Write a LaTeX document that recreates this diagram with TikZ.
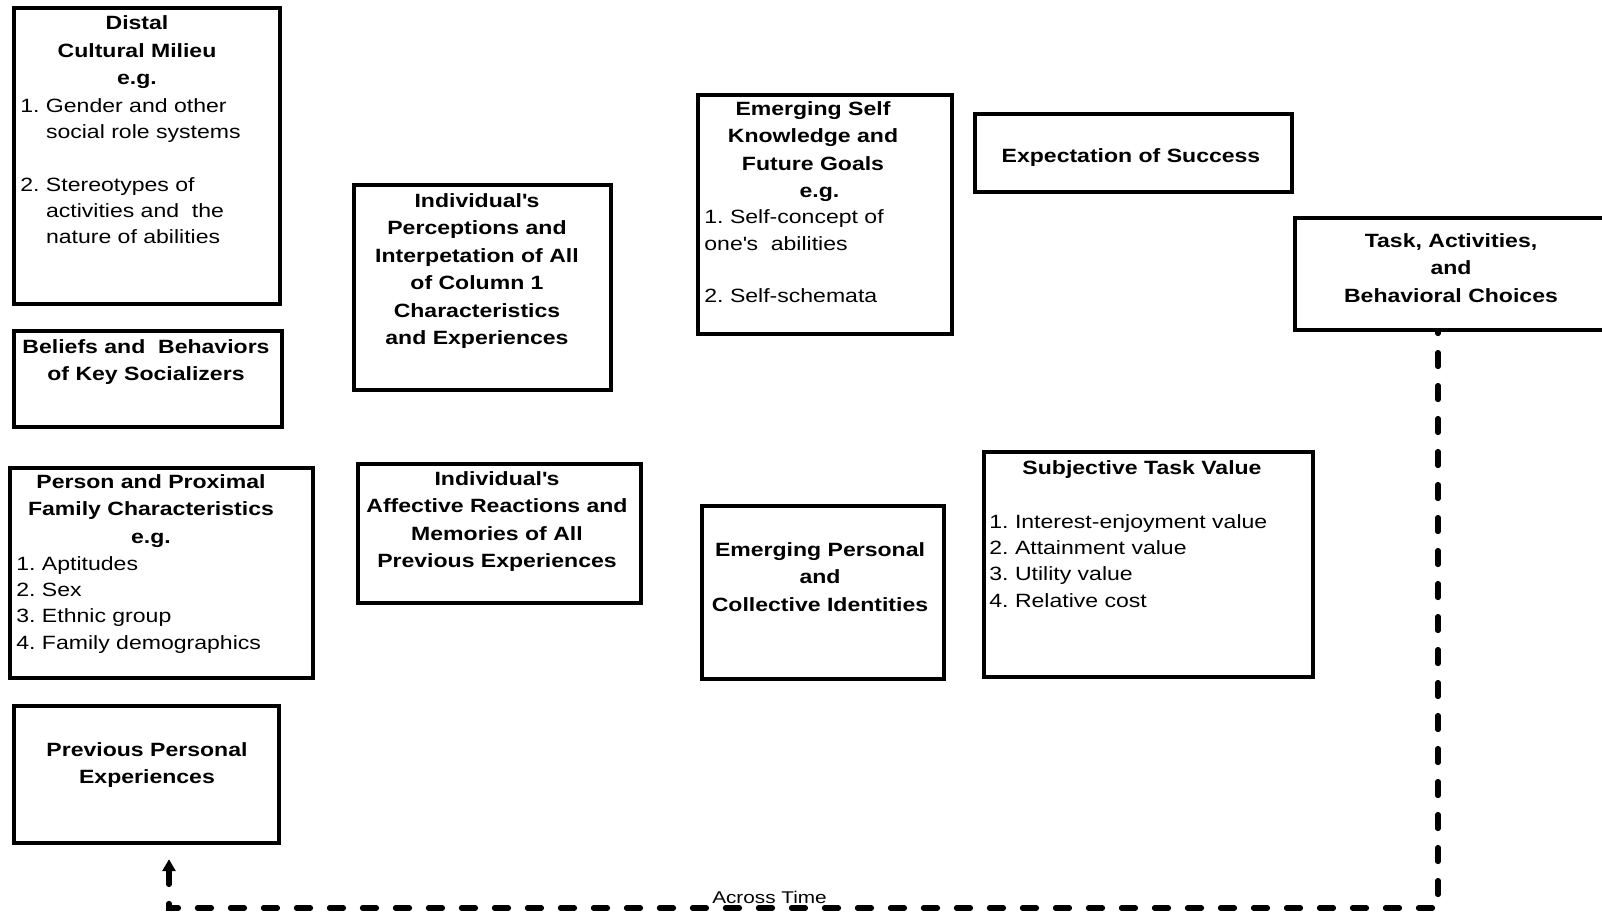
\documentclass[tikz,border=0pt]{standalone}
\usepackage{fontspec}
\setmainfont{Liberation Sans}[FakeStretch=1.2]
\newfontfamily\timefont{Liberation Sans}[FakeStretch=1.22]
\usetikzlibrary{arrows.meta}
\newcommand{\apos}{\textquotesingle}
\begin{document}
\begin{tikzpicture}[x=0.5pt,y=-0.5pt,
  box/.style={draw, line width=2.1pt, inner sep=0pt, anchor=north west},
  title/.style={font=\fontsize{9.6}{13.75}\selectfont\bfseries, align=center, inner sep=0pt, anchor=north},
  list/.style={font=\fontsize{9.6}{13.15}\selectfont, align=left, inner sep=0pt, anchor=north west},
  timeline/.style={line width=2.6pt, line cap=round, dash pattern=on 7pt off 9.5pt},
  timelabel/.style={font=\timefont\fontsize{8.5}{10}\selectfont, inner sep=0pt, anchor=base}]

\useasboundingbox (0,0) rectangle (1602,914);
\fill[white] (0,0) rectangle (1602,914);
\clip (0,0) rectangle (1602,914);

% column 1: cultural milieu, socializers, family, experiences
\node[box, minimum width=133pt, minimum height=148pt] (distal) at (12,6) {};
\node[title] (distalT) at (137,10.2) {\strut Distal\\Cultural Milieu\\e.g.};
\node[list] (distalL) at (20,93.5) {\strut 1.\ Gender and other\\\hphantom{1.\ }social role systems\\[13.15pt]
  2.\ Stereotypes of\\\hphantom{1.\ }activities and\ \ the\\\hphantom{1.\ }nature of abilities};

\node[box, minimum width=134pt, minimum height=48pt] (beliefs) at (12,329) {};
\node[title] (beliefsT) at (146,333.7) {\strut Beliefs and\ \ Behaviors\\of Key Socializers};

\node[box, minimum width=151.5pt, minimum height=105pt] (person) at (8,466) {};
\node[title] (personT) at (151,468.7) {\strut Person and Proximal\\Family Characteristics\\e.g.};
\node[list] (personL) at (16,551.5) {\strut 1.\ Aptitudes\\2.\ Sex\\3.\ Ethnic group\\4.\ Family demographics};

\node[box, minimum width=132.5pt, minimum height=68.5pt] (previous) at (12,704) {};
\node[title] (previousT) at (147,736.7) {\strut Previous Personal\\Experiences};

% column 2: perceptions and affective reactions
\node[box, minimum width=128.5pt, minimum height=102.5pt] (percept) at (352,183) {};
\node[title] (perceptT) at (477,187.7) {\strut Individual\apos s\\Perceptions and\\Interpetation of All\\of Column 1\\Characteristics\\and Experiences};

\node[box, minimum width=141.5pt, minimum height=69.5pt] (affect) at (356,462) {};
\node[title] (affectT) at (497,465.7) {\strut Individual\apos s\\Affective Reactions and\\Memories of All\\Previous Experiences};

% column 3: self knowledge and identities
\node[box, minimum width=127pt, minimum height=119.5pt] (selfknow) at (696,93) {};
\node[title] (selfT) at (813,95.7) {\strut Emerging Self\\Knowledge and\\Future Goals\\\ \ e.g.};
\node[list] (selfL) at (704,205) {\strut 1.\ Self-concept of\\one\apos s\ \ abilities\\[13.15pt]2.\ Self-schemata};

\node[box, minimum width=121pt, minimum height=86.5pt] (ident) at (700,504) {};
\node[title] (identT) at (820,536.7) {\strut Emerging Personal\\and\\Collective Identities};

% column 4: expectancy and value
\node[box, minimum width=158.5pt, minimum height=39pt] (expect) at (973,112) {};
\node[title] (expectT) at (1131,142.7) {\strut Expectation of Success};

\node[box, minimum width=164.5pt, minimum height=112.5pt] (value) at (982,450) {};
\node[title] (valueT) at (1142,454.7) {\strut Subjective Task Value};
\node[list] (valueL) at (989,509.5) {\strut 1.\ Interest-enjoyment value\\2.\ Attainment value\\3.\ Utility value\\4.\ Relative cost};

% column 5: choices
\node[box, minimum width=173.5pt, minimum height=56pt] (choices) at (1293,216) {};
\node[title] (choicesT) at (1451,227.7) {\strut Task, Activities,\\and\\Behavioral Choices};

% feedback loop across time
\coordinate (bend) at (169,908);
\coordinate (drop) at (1438,908);
\draw[timeline, {Triangle[width=6.5pt,length=6pt]}-, shorten <=7pt]
  (previous.south -| bend) -- (bend) -| (choices.south -| drop);
\node[timelabel] (acrosstime) at (769.5,903) {Across Time};

\end{tikzpicture}
\end{document}
